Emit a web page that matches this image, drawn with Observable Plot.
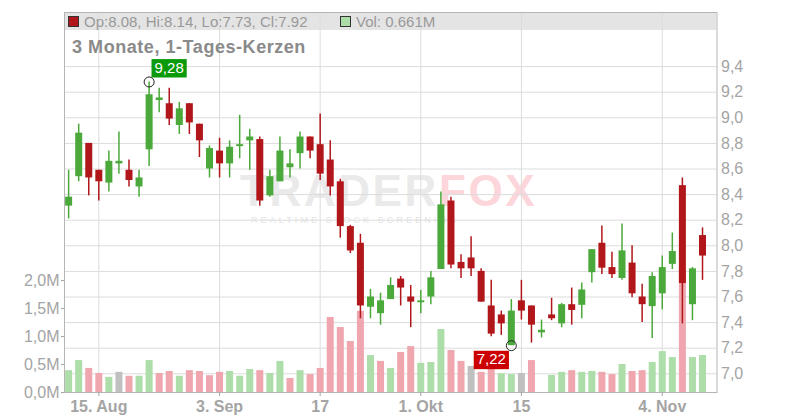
<!DOCTYPE html>
<html><head><meta charset="utf-8">
<script src="https://cdn.jsdelivr.net/npm/d3@7"></script>
<script src="https://cdn.jsdelivr.net/npm/@observablehq/plot@0.6"></script>
<style>
html,body{margin:0;padding:0;background:#fff;}
#wrap{position:relative;width:800px;height:420px;overflow:hidden;font-family:'Liberation Sans',Arial,sans-serif;}
#hdr{position:absolute;left:64px;top:12px;width:652px;height:18px;background:#e4e4e4;}
.abs{position:absolute;white-space:nowrap;}
#chart{position:absolute;left:0;top:0;}
#wm1{left:240px;top:171.5px;font-size:44px;line-height:38px;font-weight:bold;letter-spacing:2.6px;color:#eaeaea;}
#wm1 span{color:#fcd6da;}
#wm2{left:251px;top:216px;font-size:9px;line-height:9px;letter-spacing:3.1px;color:#e4e4e4;}
.leg{top:14px;font-size:15px;line-height:15px;color:#999;}
.sq{position:absolute;top:16px;width:9px;height:9px;border:1px solid #333;}
#title{left:72px;top:38px;font-size:18px;line-height:18px;font-weight:bold;letter-spacing:0.55px;color:#8a8a8a;}
</style></head><body>
<div id="wrap">
  <div id="hdr"></div>
  <div class="abs" id="wm1">TRADER<span>FOX</span></div>
  <div class="abs" id="wm2">REALTIME STOCK SCREENING</div>
  <div id="chart"></div>
  <div class="sq" id="sq1" style="left:68px;background:#b1161a;"></div>
  <div class="abs leg" id="leg1" style="left:84px;"></div>
  <div class="sq" id="sq2" style="left:340px;background:#acdca8;"></div>
  <div class="abs leg" id="leg2" style="left:356px;"></div>
  <div class="abs" id="title">3 Monate, 1-Tages-Kerzen</div>
</div>
<script>
// ---- data ----
const opens  = [8.31,8.54,8.80,8.59,8.49,8.64,8.59,8.46,8.75,9.135,9.11,8.94,9.11,8.95,8.60,8.74,8.64,8.775,8.82,8.83,8.39,8.50,8.61,8.72,8.85,8.79,8.67,8.50,8.15,8.02,7.52,7.47,7.58,7.74,7.60,7.555,7.60,7.815,8.35,7.87,7.905,7.80,7.53,7.46,7.22,7.57,7.53,7.32,7.46,7.39,7.54,7.535,7.79,8.02,7.83,7.745,7.865,7.60,7.525,7.625,7.855,8.47,7.54,8.08];
const highs  = [8.59,8.95,8.80,8.59,8.74,8.89,8.67,8.59,9.28,9.23,9.23,9.12,9.11,8.95,8.78,8.84,8.82,9.02,8.91,8.85,8.59,8.85,8.75,8.89,8.85,9.03,8.82,8.52,8.16,8.09,7.66,7.63,7.75,7.76,7.69,7.65,7.80,8.42,8.38,7.93,8.07,7.82,7.73,7.49,7.58,7.73,7.53,7.42,7.59,7.55,7.67,7.71,7.97,8.155,7.95,8.17,8.00,7.70,7.79,7.92,8.10,8.53,7.83,8.14];
const lows   = [8.21,8.50,8.39,8.35,8.42,8.56,8.46,8.38,8.62,9.04,8.94,8.87,8.87,8.69,8.53,8.53,8.53,8.68,8.59,8.31,8.38,8.50,8.53,8.60,8.68,8.51,8.39,8.06,7.94,7.43,7.43,7.38,7.58,7.53,7.36,7.47,7.54,7.815,7.82,7.745,7.76,7.56,7.29,7.30,7.22,7.42,7.24,7.28,7.415,7.36,7.38,7.43,7.71,7.775,7.745,7.73,7.595,7.40,7.275,7.50,7.815,7.39,7.415,7.73];
const closes = [8.38,8.88,8.53,8.50,8.66,8.66,8.51,8.53,9.18,9.155,8.99,9.07,8.96,8.82,8.76,8.64,8.77,8.79,8.85,8.35,8.54,8.74,8.64,8.85,8.74,8.56,8.46,8.15,7.96,7.53,7.60,7.57,7.69,7.67,7.56,7.57,7.75,8.32,7.85,7.82,7.82,7.56,7.31,7.39,7.49,7.49,7.38,7.34,7.43,7.54,7.495,7.655,7.97,7.825,7.775,7.96,7.625,7.54,7.76,7.83,7.955,7.705,7.82,7.92];
const volumes = [0.39,0.57,0.43,0.34,0.27,0.36,0.29,0.29,0.57,0.34,0.375,0.29,0.39,0.375,0.30,0.36,0.375,0.29,0.41,0.39,0.34,0.555,0.25,0.39,0.32,0.43,1.34,1.16,0.91,1.45,0.66,0.555,0.43,0.715,0.82,0.52,0.535,1.125,0.75,0.555,0.465,0.36,0.45,0.335,0.32,0.34,0.57,0,0.305,0.36,0.39,0.36,0.375,0.36,0.32,0.50,0.375,0.39,0.535,0.73,0.625,2.2,0.625,0.661];
const priceTicks = [7.0,7.2,7.4,7.6,7.8,8.0,8.2,8.4,8.6,8.8,9.0,9.2,9.4];
const volTicks = [0,0.5,1.0,1.5,2.0];
const volLabels = ["0,0M","0,5M","1,0M","1,5M","2,0M"];
const dateTickIdx = [3,15,25,35,45,59];
const dateLabels = ["15. Aug","3. Sep","17","1. Okt","15","4. Nov"];

// ---- styling constants ----
const UP = "#4aa93a", DOWN = "#b1161a";
const VUP = "#addda8", VDOWN = "#f0a6ae", VFLAT = "#c0c0c0";
const GRID = "#dcdcdc", AXC = "#a4a4a4";
const Y0 = 6.854, Y1 = 9.8227, VK = 0.4375;
const volY = v => Y0 + v * VK;
const volTickPos = volTicks.map(volY);

const data = opens.map((o, i) => ({
  i, o, h: highs[i], l: lows[i], c: closes[i], v: volumes[i],
  col: closes[i] >= o ? UP : DOWN,
  vcol: i === 0 ? VUP : (closes[i] > closes[i-1] ? VUP : (closes[i] < closes[i-1] ? VDOWN : VFLAT))
}));
const last = data[data.length - 1];
document.getElementById("leg1").textContent =
  `Op:${last.o.toFixed(2)}, Hi:${last.h.toFixed(2)}, Lo:${last.l.toFixed(2)}, Cl:${last.c.toFixed(2)}`;
document.getElementById("leg2").textContent = `Vol: ${last.v.toFixed(3)}M`;

const hi = data[d3.maxIndex(data, d => d.h)];
const lo = data[d3.minIndex(data, d => d.l)];
const fmt = v => v.toFixed(2).replace(".", ",");

const chart = Plot.plot({
  width: 800, height: 420,
  marginLeft: 64, marginRight: 83.5, marginTop: 12, marginBottom: 28,
  x: {type: "linear", domain: [-0.41, 64.44], axis: null},
  y: {domain: [Y0, Y1], axis: null},
  color: {type: "identity"},
  style: {fontFamily: "'Liberation Sans', Arial, sans-serif", fontSize: "16px", background: "transparent", overflow: "visible"},
  marks: [
    Plot.ruleY(priceTicks, {y: d => d, stroke: GRID}),
    Plot.ruleX(dateTickIdx, {x: d => d, stroke: GRID}),
    Plot.ruleX(data, {x: "i", y1: () => Y0, y2: d => volY(d.v), stroke: "vcol", strokeWidth: 7}),
    Plot.ruleX(data, {x: "i", y1: "l", y2: "h", stroke: "col", strokeWidth: 1.5}),
    Plot.ruleX(data, {x: "i", y1: "o", y2: "c", stroke: "col", strokeWidth: 7}),
    Plot.frame({stroke: "#b5b5b5"}),
    Plot.axisY({anchor: "right", ticks: priceTicks, tickSize: 0, tickPadding: 4,
      tickFormat: d => d.toFixed(1).replace(".", ","), color: AXC, fontSize: 16, label: null}),
    Plot.axisY({anchor: "left", ticks: volTickPos, tickSize: 3, tickPadding: 2,
      tickFormat: d => volLabels[volTickPos.indexOf(d)], color: AXC, fontSize: 16, label: null}),
    Plot.axisX({ticks: dateTickIdx, tickSize: 4, tickPadding: 4,
      tickFormat: d => dateLabels[dateTickIdx.indexOf(d)], color: AXC, fontSize: 16, fontWeight: "bold", label: null}),
    Plot.dot([hi], {x: "i", y: "h", r: 5, stroke: "#222", fill: "none", strokeWidth: 1}),
    Plot.dot([lo], {x: "i", y: "l", r: 5, stroke: "#222", fill: "none", strokeWidth: 1}),
    Plot.text([hi], {x: "i", y: "h", text: d => fmt(d.h), dx: 20, dy: -14, fill: "white", fontSize: 15, className: "boxlbl-g"}),
    Plot.text([lo], {x: "i", y: "l", text: d => fmt(d.l), dx: -20, dy: 14, fill: "white", fontSize: 15, className: "boxlbl-r"})
  ]
});
document.getElementById("chart").appendChild(chart);

function boxify(cls, color) {
  d3.select(chart).selectAll(`g.${cls} text`).each(function() {
    const b = this.getBBox();
    const w = b.width + 6;
    const tx = parseFloat(this.getAttribute("x")) || 0;
    const ty = parseFloat(this.getAttribute("y")) || 0;
    const r = d3.select(this.parentNode).insert("rect", () => this)
      .attr("x", tx - w / 2).attr("y", ty - 9.2)
      .attr("width", w).attr("height", 18.4).attr("fill", color);
    const t = this.getAttribute("transform");
    if (t) r.attr("transform", t);
  });
}
boxify("boxlbl-g", "#0a9a0a");
boxify("boxlbl-r", "#cc0000");
</script>
</body></html>
